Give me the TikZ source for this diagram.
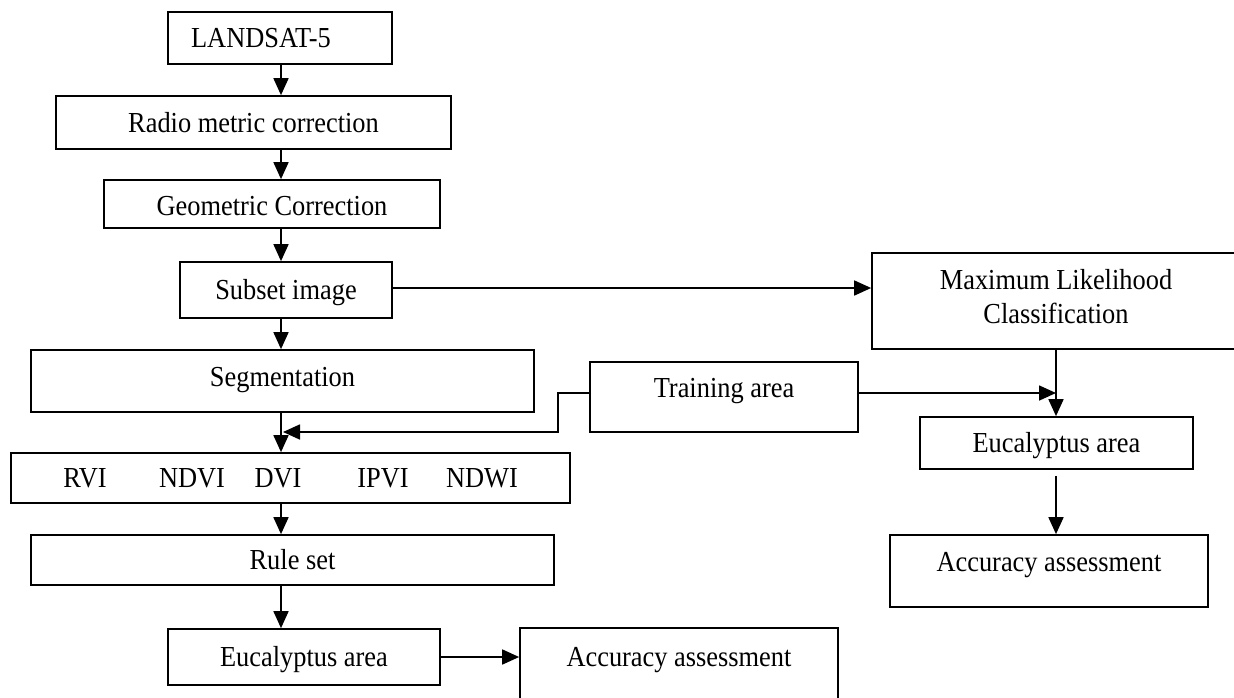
\documentclass[tikz,border=0pt]{standalone}
\usepackage{fontspec}
\setmainfont{Liberation Serif}[FakeStretch=0.91]
\usetikzlibrary{arrows.meta}
\newcommand\upby[2]{\raisebox{#1}[\height][\depth]{#2}}
\begin{document}
\begin{tikzpicture}[x=1pt,y=-1pt,
  txt/.style={font=\fontsize{29}{34}\selectfont},
  box/.style={draw, line width=1.7pt, inner sep=0pt, txt, text height=23pt, text depth=4pt},
  mbox/.style={draw, line width=1.7pt, inner sep=0pt, txt, align=center},
  lbl/.style={inner sep=0pt, txt, text height=23pt, text depth=4pt},
  arr/.style={line width=1.7pt, -{Triangle[length=17pt,width=15pt]}},
  conn/.style={line width=1.7pt}]
\useasboundingbox (0,0) rectangle (1234,697);
\clip (0,0) rectangle (1234,697);
\coordinate (spine) at (281,0);
\coordinate (rspine) at (1056,0);
% left column
\node[box, minimum width=224pt, minimum height=52pt] (lsat) at (280,38) {\hspace*{-38pt}LANDSAT-5};
\node[box, minimum width=395pt, minimum height=53pt] (rad) at (253.5,122.5) {Radio metric correction};
\node[box, minimum width=336pt, minimum height=48pt] (geo) at (272,204) {\upby{-2pt}{Geometric Correction}};
\node[box, minimum width=212pt, minimum height=56pt] (sub) at (286,290) {Subset image};
\node[box, minimum width=503pt, minimum height=62pt] (seg) at (282.5,381) {\upby{4pt}{Segmentation}};
\node[box, minimum width=559pt, minimum height=50pt] (idx) at (290.5,478) {};
\node[lbl] (rvi) at (85,478) {RVI};
\node[lbl] (ndvi) at (192,478) {NDVI};
\node[lbl] (dvi) at (278,478) {DVI};
\node[lbl] (ipvi) at (383,478) {IPVI};
\node[lbl] (ndwi) at (482,478) {NDWI};
\node[box, minimum width=523pt, minimum height=50pt] (rule) at (292.5,560) {Rule set};
\node[box, minimum width=272pt, minimum height=56pt] (eucL) at (304,657) {Eucalyptus area};
\node[box, minimum width=318pt, minimum height=102pt] (accB) at (679,679) {\upby{22pt}{Accuracy assessment}};
% right column
\node[mbox, minimum width=368pt, minimum height=96pt] (mlc) at (1056,301) {\upby{1pt}{\begin{tabular}{@{}c@{}}Maximum Likelihood\\Classification\end{tabular}}};
\node[box, minimum width=268pt, minimum height=70pt] (train) at (724,397) {\upby{9pt}{Training area}};
\node[box, minimum width=273pt, minimum height=52pt] (eucR) at (1056.5,443) {Eucalyptus area};
\node[box, minimum width=318pt, minimum height=72pt] (accR) at (1049,571) {\upby{9pt}{Accuracy assessment}};
% connectors
\draw[arr] (lsat.south -| spine) -- (rad.north -| spine);
\draw[arr] (rad.south -| spine) -- (geo.north -| spine);
\draw[arr] (geo.south -| spine) -- (sub.north -| spine);
\draw[arr] (sub.south -| spine) -- (seg.north -| spine);
\draw[arr] (seg.south -| spine) -- (idx.north -| spine);
\draw[arr] (idx.south -| spine) -- (rule.north -| spine);
\draw[arr] (rule.south -| spine) -- (eucL.north -| spine);
\draw[arr] (eucL.east) -- (eucL.east -| accB.west);
\draw[arr] ([yshift=2pt]sub.east) -- ([yshift=2pt]sub.east -| mlc.west);
\coordinate (ltip) at (283,432);
\draw[arr] ([yshift=4pt]train.west) -| (558,432) -- (ltip);
\coordinate (rtip) at (1056,393);
\draw[arr] ([yshift=4pt]train.east) -- (rtip);
\draw[arr] (mlc.south -| rspine) -- (eucR.north -| rspine);
\draw[arr] ([yshift=-6pt]eucR.south -| rspine) -- (accR.north -| rspine);
\end{tikzpicture}
\end{document}
